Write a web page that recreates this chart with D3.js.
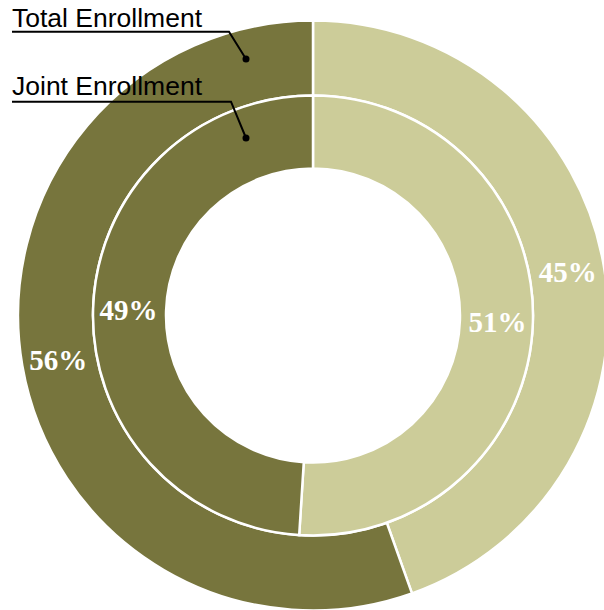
<!DOCTYPE html>
<html>
<head>
<meta charset="utf-8">
<script src="https://cdn.jsdelivr.net/npm/d3@7"></script>
<style>
  html, body { margin: 0; padding: 0; background: #fff; }
  svg { display: block; }
</style>
</head>
<body>
<svg id="chart" width="604" height="610"></svg>
<script>
// Enrollment shares, each ring drawn clockwise from 12 o'clock
const segments = ["Other", "Share"];
const totalValues = [45, 56];   // outer ring: Total Enrollment
const jointValues = [51, 49];   // inner ring: Joint Enrollment
const ringNames = ["Total Enrollment", "Joint Enrollment"];
const colors = ["#cccc99", "#77753d"];

const svg = d3.select("#chart");
const cx = 313, cy = 315.5;

const pie = d3.pie().sort(null).value(d => d);
const color = d3.scaleOrdinal().domain(segments).range(colors);

const rings = [
  { values: totalValues, inner: 220, outer: 295 },
  { values: jointValues, inner: 147, outer: 220 }
];

const g = svg.append("g").attr("transform", `translate(${cx},${cy})`);

rings.forEach(ring => {
  const arc = d3.arc().innerRadius(ring.inner).outerRadius(ring.outer);
  const labelArc = d3.arc().innerRadius((ring.inner + ring.outer) / 2 + 1)
                           .outerRadius((ring.inner + ring.outer) / 2 + 1);
  const arcs = pie(ring.values);

  g.append("g").selectAll("path")
    .data(arcs)
    .join("path")
    .attr("d", arc)
    .attr("fill", (d, i) => color(segments[i]))
    .attr("stroke", "#fff")
    .attr("stroke-width", 2.5);

  g.append("g").selectAll("text")
    .data(arcs)
    .join("text")
    .attr("transform", d => `translate(${labelArc.centroid(d)})`)
    .attr("text-anchor", "middle")
    .attr("dy", "0.36em")
    .attr("fill", "#fff")
    .attr("font-family", "'Liberation Serif', 'Times New Roman', serif")
    .attr("font-weight", "bold")
    .attr("font-size", 29)
    .text(d => d.value + "%");
});

// Ring name callouts pointing into the dark segment of each ring
const callouts = [
  { name: ringNames[0], baseline: 27, lineY: 31.7, lineEnd: 229, dot: [246, 59] },
  { name: ringNames[1], baseline: 95, lineY: 101.7, lineEnd: 231, dot: [246, 138] }
];

const leg = svg.append("g");
callouts.forEach(c => {
  leg.append("text")
    .attr("x", 12)
    .attr("y", c.baseline)
    .attr("font-family", "'Liberation Sans', Arial, sans-serif")
    .attr("font-size", 26.5)
    .attr("fill", "#000")
    .text(c.name);
  leg.append("polyline")
    .attr("points", `12,${c.lineY} ${c.lineEnd},${c.lineY} ${c.dot[0]},${c.dot[1]}`)
    .attr("fill", "none")
    .attr("stroke", "#000")
    .attr("stroke-width", 2);
  leg.append("circle")
    .attr("cx", c.dot[0])
    .attr("cy", c.dot[1])
    .attr("r", 3.5)
    .attr("fill", "#000");
});
</script>
</body>
</html>
